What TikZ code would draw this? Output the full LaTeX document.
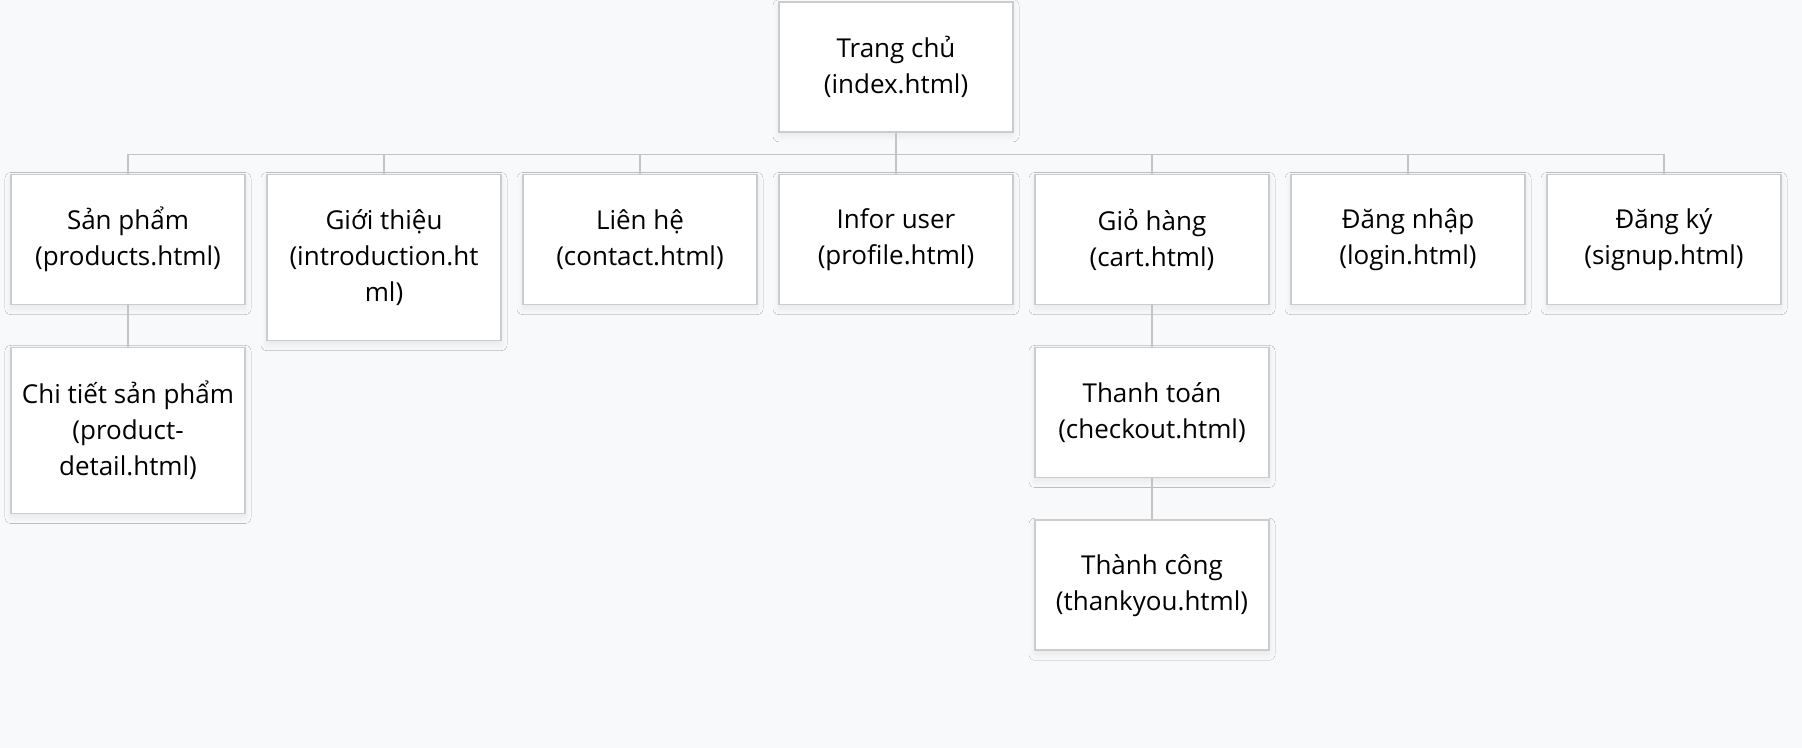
\documentclass[tikz,border=0pt]{standalone}
\usepackage{fontspec}
\setmainfont{Open Sans}
\usetikzlibrary{shadows.blur}
\definecolor{pagebg}{HTML}{F8F9FA}
\definecolor{boxline}{HTML}{CCCCCC}
\definecolor{linkline}{HTML}{C4C4C4}

\begin{document}
\begin{tikzpicture}[
        x=1pt, y=1pt,
        level distance=53.5pt,
        every node/.style={rectangle,draw=boxline,line width=0.8pt,fill=white,
            minimum width=117pt,minimum height=65pt,align=center,anchor=north,
            text=black,font=\fontsize{13pt}{18pt}\selectfont,
            blur shadow={shadow xshift=0pt,shadow yshift=-2pt,shadow blur radius=3pt,
                shadow blur steps=20,shadow opacity=7}},
        tall/.style={minimum height=83pt},
        level 1/.style={sibling distance=128pt},
        level 2/.style={sibling distance=128pt},
        edge from parent/.style={draw=linkline,line width=0.7pt},
        edge from parent path={(\tikzparentnode.south) -- ++(0,-11) -| (\tikzchildnode.north)},
    ]
    \path[use as bounding box,fill=pagebg] (0,0) rectangle (901,-374);
    \node (home) at (448,-0.5) {Trang chủ\\(index.html)}
      child { node (products) {Sản phẩm\\(products.html)}
        child { node[tall] (detail) {Chi tiết sản phẩm\\(product-\\detail.html)} }
      }
      child { node[tall] (intro) {Giới thiệu\\(introduction.ht\\ml)} }
      child { node (contact) {Liên hệ\\(contact.html)} }
      child { node (profile) {Infor user\\(profile.html)} }
      child { node (cart) {Giỏ hàng\\(cart.html)}
        child { node (checkout) {Thanh toán\\(checkout.html)}
          child { node (thanks) {Thành công\\(thankyou.html)} }
        }
      }
      child { node (login) {Đăng nhập\\(login.html)} }
      child { node (signup) {Đăng ký\\(signup.html)} };
\end{tikzpicture}
\end{document}
